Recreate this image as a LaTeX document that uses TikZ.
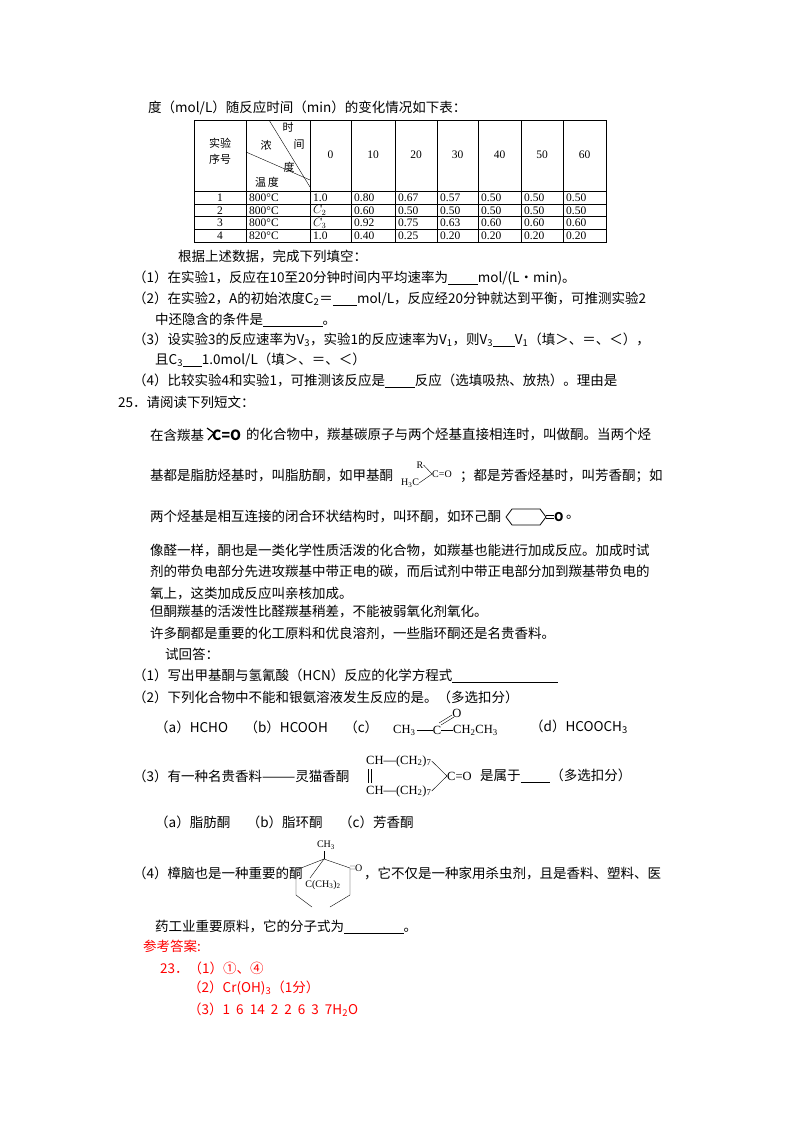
\documentclass[tikz,border=0pt]{standalone}
\usepackage{fontspec}
\setmainfont{Noto Sans CJK SC}
\newfontfamily\tms{Liberation Serif}
\newcommand{\sub}[1]{\textsubscript{#1}}
\begin{document}
\begin{tikzpicture}[x=1pt,y=-1pt,
  txt/.style={anchor=west,inner sep=0pt,font=\fontsize{13.5}{16}\selectfont},
  tb/.style={inner sep=0pt,font=\tms\fontsize{11.5}{12}\selectfont},
  tc/.style={inner sep=0pt,font=\fontsize{11}{12}\selectfont},
  ch/.style={inner sep=0pt,font=\tms\fontsize{12.5}{14}\selectfont},
  cs/.style={inner sep=0pt,font=\tms\fontsize{10}{11}\selectfont},
  ans/.style={txt,text=red}]
\useasboundingbox (0,0) rectangle (800,1132);
\fill[white] (0,0) rectangle (800,1132);
\node[txt] (l0) at (148,108) {度（mol/L）随反应时间（min）的变化情况如下表：};
% table
\draw[line width=0.8pt] (194,120) rectangle (606,242);
\foreach \x in {246,310,351,395,437,478,521,563}{\draw (\x,120)--(\x,242);}
\foreach \y in {191.5,204,216.5,229}{\draw (194,\y)--(606,\y);}
\draw (269,120)--(310,187);
\draw (246,152)--(310,180);
\node[tc] (h1) at (220,143) {实验};
\node[tc] (h2) at (220,159) {序号};
\node[tc] (h3) at (288,127) {时};
\node[tc] (h4) at (299,144) {间};
\node[tc] (h5) at (266,145) {浓};
\node[tc] (h6) at (289,167) {度};
\node[tc] (h7) at (267,182) {温\,度};
\foreach \v [count=\i] in {0,10,20,30,40,50,60}{
  \pgfmathsetmacro{\xa}{{310,351,395,437,478,521,563,606}[\i-1]}
  \pgfmathsetmacro{\xb}{{310,351,395,437,478,521,563,606}[\i]}
  \node[tb] at ({(\xa+\xb)/2},155) {\v};}
\foreach \row [count=\r] in {{1,800°C,1.0,0.80,0.67,0.57,0.50,0.50,0.50},{2,800°C,$C_2$,0.60,0.50,0.50,0.50,0.50,0.50},{3,800°C,$C_3$,0.92,0.75,0.63,0.60,0.60,0.60},{4,820°C,1.0,0.40,0.25,0.20,0.20,0.20,0.20}}{
  \pgfmathsetmacro{\yy}{185.5+12.5*\r}
  \foreach \c [count=\k] in \row {
    \ifnum\k=1 \node[tb] at (220,\yy) {\c};
    \else
      \pgfmathsetmacro{\xl}{{246,310,351,395,437,478,521,563}[\k-2]}
      \node[tb,anchor=west] at (\xl+3,\yy) {\c};
    \fi}}
\node[txt] (l1) at (178,256) {根据上述数据，完成下列填空：};
\node[txt] (l2) at (133,278) {（1）在实验1，反应在10至20分钟时间内平均速率为\underline{\hspace{2.2em}}mol/(L·min)。};
\node[txt] (l3) at (133,299) {（2）在实验2，A的初始浓度C\sub{2}＝\underline{\hspace{1.8em}}mol/L，反应经20分钟就达到平衡，可推测实验2};
\node[txt] (l4) at (155,320) {中还隐含的条件是\underline{\hspace{4.4em}}。};
\node[txt] (l5) at (133,340) {（3）设实验3的反应速率为V\sub{3}，实验1的反应速率为V\sub{1}，则V\sub{3}\underline{\hspace{1.6em}}V\sub{1}（填＞、＝、＜），};
\node[txt] (l6) at (155,360) {且C\sub{3}\underline{\hspace{1.4em}}1.0mol/L（填＞、＝、＜）};
\node[txt] (l7) at (133,381) {（4）比较实验4和实验1，可推测该反应是\underline{\hspace{2.2em}}反应（选填吸热、放热）。理由是};
\node[txt] (l8) at (118,402) {25．请阅读下列短文：};
% paragraph line 1
\node[txt] (p1a) at (150,435) {在含羰基};
\draw[line width=1.2pt] (207,428)--(214,433)--(208,440);
\node[txt,font=\bfseries\fontsize{14}{16}\selectfont] (co) at (212,435) {C=O};
\node[txt] (p1b) at (246,435) {的化合物中，羰基碳原子与两个烃基直接相连时，叫做酮。当两个烃};
% line 2
\node[txt] (p2a) at (150,476) {基都是脂肪烃基时，叫脂肪酮，如甲基酮};
\node[cs] (R) at (420,465) {R};
\node[cs] (H3C) at (410,483) {H\sub{3}C};
\node[cs,anchor=west] (Co) at (432,474) {C=O};
\draw (R.east)--(Co.west) (H3C.east)--(Co.west);
\node[txt] (p2b) at (460,476) {；都是芳香烃基时，叫芳香酮；如};
% line 3
\node[txt] (p3a) at (150,517) {两个烃基是相互连接的闭合环状结构时，叫环酮，如环己酮};
\draw[line width=0.8pt] (512,509)--(540,509)--(546,517)--(540,525)--(512,525)--(506,517)--cycle;
\draw[line width=0.8pt] (546,515.8)--(554,515.8) (546,518.2)--(554,518.2);
\node[txt,font=\bfseries\fontsize{12}{14}\selectfont] (ox) at (554,517) {O};
\node[txt] (dot) at (566,517) {。};
\node[txt] (p4) at (150,550) {像醛一样，酮也是一类化学性质活泼的化合物，如羰基也能进行加成反应。加成时试};
\node[txt] (p5) at (150,572) {剂的带负电部分先进攻羰基中带正电的碳，而后试剂中带正电部分加到羰基带负电的};
\node[txt] (p6) at (150,593) {氧上，这类加成反应叫亲核加成。};
\node[txt] (p7) at (150,612) {但酮羰基的活泼性比醛羰基稍差，不能被弱氧化剂氧化。};
\node[txt] (p8) at (150,633) {许多酮都是重要的化工原料和优良溶剂，一些脂环酮还是名贵香料。};
\node[txt] (p9) at (165,654) {试回答：};
\node[txt] (q1) at (133,676) {（1）写出甲基酮与氢氰酸（HCN）反应的化学方程式\underline{\hspace{7.8em}}};
\node[txt] (q2) at (133,697) {（2）下列化合物中不能和银氨溶液发生反应的是。（多选扣分）};
\node[txt] (qa) at (155,727) {（a）HCHO\quad\ （b）HCOOH\quad\ （c）};
\node[ch,anchor=west] (c1) at (393,730) {CH\sub{3}};
\node[ch] (c2) at (437,730) {C};
\node[ch,anchor=west] (c3) at (453,730) {CH\sub{2}CH\sub{3}};
\node[ch] (c4) at (457,713) {O};
\draw (c1.east)++(1,0)--(c2.west) (c2.east)--(c3.west);
\draw (439,723)--(452,715) (441,725)--(454,717);
\node[txt] (qd) at (530,727) {（d）HCOOCH\sub{3}};
\node[txt] (q3) at (133,776) {（3）有一种名贵香料———灵猫香酮};
\node[ch,anchor=west] (v1) at (366,761) {CH—(CH\sub{2})\sub{7}};
\node[ch,anchor=west] (v2) at (366,791) {CH—(CH\sub{2})\sub{7}};
\draw (368.5,769)--(368.5,783) (371,769)--(371,783);
\node[ch,anchor=west] (vc) at (447,776) {C=O};
\draw (v1.east)--(vc.west) (v2.east)--(vc.west);
\node[txt] (q3b) at (480,776) {是属于\underline{\hspace{2.2em}}（多选扣分）};
\node[txt] (q3a) at (155,822) {（a）脂肪酮\quad\ （b）脂环酮\quad\ （c）芳香酮};
\node[txt] (q4) at (133,873) {（4）樟脑也是一种重要的酮};
\node[cs] (me) at (326,845) {CH\sub{3}};
\draw (324,851)--(324,859);
\draw (296,870)--(324,859)--(350,868)--(350,895)--(330,907) (296,870)--(296,895)--(312,907);
\draw (324,859)--(310,878) (350,866)--(355,866) (350,869)--(355,869);
\node[cs] (cm) at (323,885) {C(CH\sub{3})\sub{2}};
\node[cs,anchor=west] (ko) at (355,868) {O};
\node[txt] (q4b) at (364,873) {，它不仅是一种家用杀虫剂，且是香料、塑料、医};
\node[txt] (q4c) at (155,927) {药工业重要原料，它的分子式为\underline{\hspace{4.4em}}。};
\node[ans] (a0) at (143,946) {参考答案:};
\node[ans] (a1) at (160,968) {23．（1）①、④};
\node[ans] (a2) at (188,988) {（2）Cr(OH)\sub{3}（1分）};
\node[ans] (a3) at (188,1010) {（3）1\ \ 6\ \ 14\ \ 2\ \ 2\ \ 6\ \ 3\ \ 7H\sub{2}O};
\end{tikzpicture}
\end{document}
